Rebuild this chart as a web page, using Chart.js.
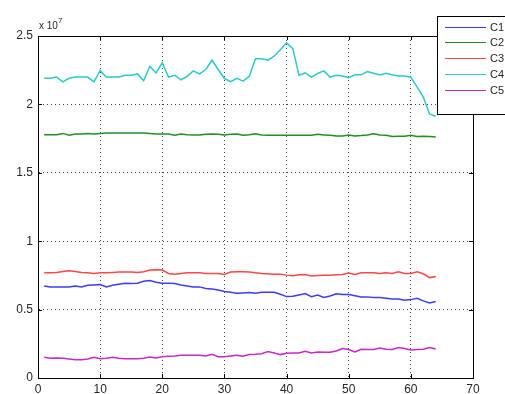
<!DOCTYPE html>
<html>
<head>
<meta charset="utf-8">
<script src="https://cdn.jsdelivr.net/npm/chart.js@4/dist/chart.umd.min.js"></script>
<style>
  html, body { margin: 0; padding: 0; background: #fff; }
  #wrap { width: 505px; height: 394px; position: relative; }
</style>
</head>
<body>
<div id="wrap"><canvas id="linechart"></canvas></div>
<script>
// values are in units of 10^7
const EXPONENT = 7;
const seriesNames = ['C1', 'C2', 'C3', 'C4', 'C5'];
const seriesColors = ['#3c3cff', '#209020', '#ff4646', '#2ccaca', '#c828c8'];
const yTicks = [0, 0.5, 1, 1.5, 2, 2.5];
const xTicks = [0, 10, 20, 30, 40, 50, 60, 70];

const c1 = [0.673, 0.666, 0.666, 0.666, 0.666, 0.673, 0.666, 0.678, 0.680, 0.683,
  0.666, 0.678, 0.685, 0.693, 0.690, 0.693, 0.707, 0.712, 0.700, 0.693,
  0.693, 0.690, 0.680, 0.673, 0.666, 0.666, 0.654, 0.651, 0.644, 0.632,
  0.627, 0.620, 0.622, 0.625, 0.620, 0.627, 0.627, 0.627, 0.612, 0.595,
  0.598, 0.607, 0.617, 0.595, 0.607, 0.588, 0.600, 0.615, 0.610, 0.610,
  0.602, 0.593, 0.593, 0.588, 0.588, 0.583, 0.578, 0.578, 0.569, 0.573,
  0.583, 0.564, 0.549, 0.559];
const c2 = [1.779, 1.779, 1.779, 1.788, 1.774, 1.784, 1.784, 1.788, 1.784, 1.788,
  1.791, 1.791, 1.791, 1.791, 1.791, 1.791, 1.791, 1.788, 1.784, 1.784,
  1.784, 1.774, 1.784, 1.779, 1.777, 1.777, 1.781, 1.784, 1.781, 1.777,
  1.781, 1.784, 1.775, 1.779, 1.786, 1.777, 1.774, 1.774, 1.774, 1.774,
  1.774, 1.774, 1.774, 1.774, 1.781, 1.777, 1.774, 1.769, 1.769, 1.777,
  1.769, 1.772, 1.777, 1.786, 1.777, 1.774, 1.765, 1.767, 1.767, 1.774,
  1.765, 1.767, 1.765, 1.762];
const c3 = [0.769, 0.769, 0.771, 0.779, 0.784, 0.779, 0.771, 0.769, 0.764, 0.769,
  0.769, 0.771, 0.774, 0.774, 0.774, 0.771, 0.776, 0.789, 0.791, 0.789,
  0.764, 0.759, 0.764, 0.769, 0.769, 0.769, 0.764, 0.764, 0.764, 0.757,
  0.774, 0.776, 0.776, 0.774, 0.769, 0.764, 0.762, 0.759, 0.759, 0.752,
  0.747, 0.754, 0.757, 0.745, 0.750, 0.752, 0.752, 0.754, 0.757, 0.767,
  0.757, 0.769, 0.769, 0.769, 0.764, 0.769, 0.764, 0.776, 0.764, 0.764,
  0.776, 0.762, 0.734, 0.742];
const c4 = [2.191, 2.191, 2.200, 2.165, 2.191, 2.200, 2.200, 2.200, 2.165, 2.247,
  2.200, 2.200, 2.200, 2.213, 2.213, 2.223, 2.174, 2.279, 2.230, 2.304,
  2.200, 2.213, 2.180, 2.205, 2.245, 2.223, 2.255, 2.323, 2.255, 2.189,
  2.167, 2.190, 2.170, 2.205, 2.333, 2.333, 2.323, 2.352, 2.400, 2.450,
  2.408, 2.213, 2.230, 2.200, 2.226, 2.245, 2.200, 2.213, 2.208, 2.196,
  2.216, 2.216, 2.240, 2.228, 2.216, 2.228, 2.216, 2.208, 2.208, 2.199,
  2.128, 2.055, 1.930, 1.913];
const c5 = [0.151, 0.144, 0.146, 0.144, 0.139, 0.134, 0.134, 0.139, 0.151, 0.141,
  0.144, 0.151, 0.144, 0.141, 0.141, 0.141, 0.144, 0.154, 0.146, 0.156,
  0.159, 0.161, 0.166, 0.166, 0.166, 0.166, 0.161, 0.173, 0.156, 0.156,
  0.161, 0.166, 0.159, 0.171, 0.173, 0.178, 0.193, 0.183, 0.171, 0.181,
  0.183, 0.183, 0.195, 0.183, 0.190, 0.188, 0.188, 0.198, 0.215, 0.208,
  0.190, 0.210, 0.208, 0.208, 0.220, 0.210, 0.208, 0.222, 0.215, 0.205,
  0.208, 0.210, 0.222, 0.212];
const allSeries = [c1, c2, c3, c4, c5];

const FONT = 'Liberation Sans, Arial, sans-serif';
const TEXT = '#262626';

// inward tick marks, box frame, exponent label and the legend
const matlabAxes = {
  id: 'matlabAxes',
  afterDraw(chart) {
    const ctx = chart.ctx;
    const a = chart.chartArea;
    const xs = chart.scales.x, ys = chart.scales.y;
    const len = 4;
    ctx.save();
    ctx.strokeStyle = '#000';
    ctx.lineWidth = 1;
    ctx.beginPath();
    xTicks.forEach(t => {
      const px = Math.round(xs.getPixelForValue(t)) + 0.5;
      ctx.moveTo(px, a.bottom); ctx.lineTo(px, a.bottom - len);
      ctx.moveTo(px, a.top); ctx.lineTo(px, a.top + len);
    });
    yTicks.forEach(t => {
      const py = Math.round(ys.getPixelForValue(t)) + 0.5;
      ctx.moveTo(a.left, py); ctx.lineTo(a.left + len, py);
      ctx.moveTo(a.right, py); ctx.lineTo(a.right - len, py);
    });
    ctx.stroke();
    ctx.strokeRect(Math.round(a.left) + 0.5, Math.round(a.top) + 0.5,
      Math.round(a.right - a.left), Math.round(a.bottom - a.top));

    // exponent label above the y axis
    ctx.fillStyle = TEXT;
    ctx.textBaseline = 'alphabetic';
    ctx.font = '10px ' + FONT;
    ctx.fillText('x 10', a.left + 1, a.top - 7);
    const w = ctx.measureText('x 10').width;
    ctx.font = '8px ' + FONT;
    ctx.fillText(String(EXPONENT), a.left + 1 + w, a.top - 13);

    // legend box, overhanging the top right corner
    const bx = 437, by = 16, bw = 80, bh = 98;
    ctx.fillStyle = '#fff';
    ctx.fillRect(bx, by, bw, bh);
    ctx.strokeStyle = '#000';
    ctx.strokeRect(bx + 0.5, by + 0.5, bw, bh);
    ctx.font = '11px ' + FONT;
    ctx.textBaseline = 'middle';
    seriesNames.forEach((name, i) => {
      const ly = Math.round(by + 10.5 + i * 15.8) + 0.5;
      ctx.strokeStyle = seriesColors[i];
      ctx.beginPath();
      ctx.moveTo(445, ly); ctx.lineTo(486, ly);
      ctx.stroke();
      ctx.fillStyle = TEXT;
      ctx.fillText(name, 490, ly + 0.5);
    });
    ctx.restore();
  }
};

const ctxl = document.getElementById('linechart').getContext('2d');
const linechart = new Chart(ctxl, {
  type: 'line',
  data: {
    datasets: allSeries.map((vals, i) => ({
      label: seriesNames[i],
      data: vals.map((v, k) => ({ x: k + 1, y: v })),
      borderColor: seriesColors[i],
      borderWidth: 1.5,
      pointRadius: 0,
      tension: 0,
      fill: false
    }))
  },
  options: {
    responsive: true,
    maintainAspectRatio: false,
    animation: false,
    layout: { padding: { top: 36, right: 32, left: 0, bottom: 0 } },
    plugins: {
      legend: { display: false },
      tooltip: { enabled: false }
    },
    scales: {
      x: {
        type: 'linear',
        min: 0,
        max: 70,
        afterFit: s => { s.height = 16; },
        afterBuildTicks: s => { s.ticks = xTicks.map(v => ({ value: v })); },
        grid: {
          drawTicks: false,
          color: c => (c.tick && (c.tick.value === 0 || c.tick.value === 70)) ? 'rgba(0,0,0,0)' : '#444'
        },
        border: { display: true, color: '#000', dash: [1, 3] },
        ticks: { padding: 4, color: TEXT, font: { family: FONT, size: 12 }, maxRotation: 0 }
      },
      y: {
        min: 0,
        max: 2.5,
        afterFit: s => { s.width = 38; },
        afterBuildTicks: s => { s.ticks = yTicks.map(v => ({ value: v })); },
        grid: {
          drawTicks: false,
          color: c => (c.tick && (c.tick.value === 0 || c.tick.value === 2.5)) ? 'rgba(0,0,0,0)' : '#444'
        },
        border: { display: true, color: '#000', dash: [1, 3] },
        ticks: {
          padding: 5, color: TEXT, font: { family: FONT, size: 12 },
          callback: v => String(v)
        }
      }
    }
  },
  plugins: [matlabAxes]
});
</script>
</body>
</html>
